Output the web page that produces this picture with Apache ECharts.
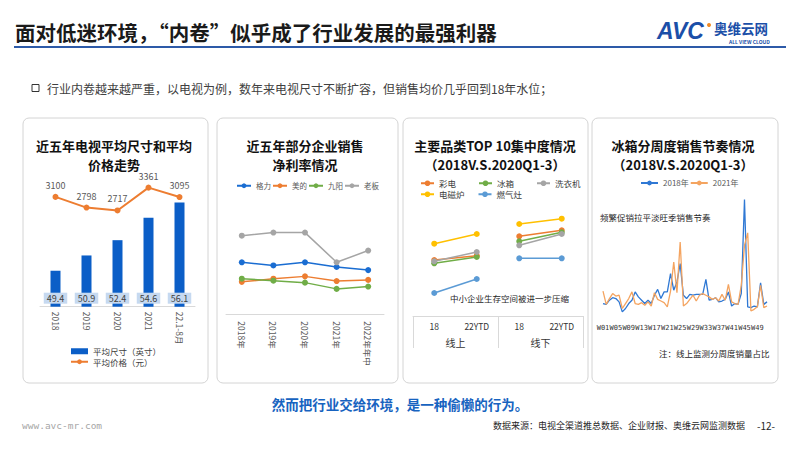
<!DOCTYPE html>
<html>
<head>
<meta charset="utf-8">
<script src="https://cdn.jsdelivr.net/npm/echarts@6/dist/echarts.min.js"></script>
<style>
html, body { margin: 0; padding: 0; background: #fff; }
#main { width: 800px; height: 450px; }
</style>
</head>
<body>
<div id="main"></div>
<script>
// 图1：近五年电视平均尺寸和平均价格
const tvYears = ['2018', '2019', '2020', '2021', '22.1-8月'];
const tvSize = [49.4, 50.9, 52.4, 54.6, 56.1];
const tvPrice = [3100, 2798, 2717, 3361, 3095];

// 图2：企业净利率（%）
const profitYears = ['2018年', '2019年', '2020年', '2021年', '2022年年中'];
const gree = [13.3, 12.5, 13.3, 12.1, 11.3];
const midea = [8.3, 9.1, 9.7, 8.5, 8.8];
const joyoung = [9.1, 8.6, 8.1, 6.5, 7.1];
const robam = [20.1, 20.9, 20.9, 13.3, 16.3];

// 图3：TOP10集中度（线上18、线上22YTD、线下18、线下22YTD）
const crCats = ['18', '22YTD', '18', '22YTD'];
const crChannels = ['线上', '线下'];
const crTV = [56.0, 60.3, 79.7, 85.7];
const crFridge = [52.7, 59.0, 74.7, 83.7];
const crWasher = [54.7, 64.0, 70.7, 82.0];
const crInduction = [72.3, 82.0, 92.0, 97.3];
const crStove = [23.0, 37.0, 57.7, 57.7];

// 图4：冰箱分周度销量占比（%）
const weeks = ['W01', 'W02', 'W03', 'W04', 'W05', 'W06', 'W07', 'W08', 'W09', 'W10',
  'W11', 'W12', 'W13', 'W14', 'W15', 'W16', 'W17', 'W18', 'W19', 'W20',
  'W21', 'W22', 'W23', 'W24', 'W25', 'W26', 'W27', 'W28', 'W29', 'W30',
  'W31', 'W32', 'W33', 'W34', 'W35', 'W36', 'W37', 'W38', 'W39', 'W40',
  'W41', 'W42', 'W43', 'W44', 'W45', 'W46', 'W47', 'W48', 'W49', 'W50',
  'W51', 'W52'];
const week2018 = [1.5, 1.4, 1.9, 2.2, 2.1, 1.7, 0.5, 0.9, 1.5, 1.9,
  2.9, 2.3, 1.9, 1.5, 1.9, 1.5, 2.5, 3.2, 2.1, 2.9,
  2.9, 5.1, 3.1, 4.1, 6.3, 2.5, 2.1, 2.6, 2.5, 2.6,
  2.6, 2.6, 4.4, 1.9, 2.0, 2.2, 1.7, 1.8, 2.0, 2.9,
  1.2, 1.5, 1.4, 2.7, 14.0, 1.1, 1.0, 1.2, 1.1, 4.0,
  1.4, 1.7];
const week2021 = [3.0, 1.4, 2.1, 2.7, 2.4, 2.5, 0.9, 1.5, 2.1, 2.9,
  1.5, 1.4, 1.6, 1.3, 1.7, 1.2, 2.8, 2.0, 1.8, 1.6,
  1.1, 3.0, 6.5, 2.8, 8.9, 1.2, 1.5, 2.0, 2.5, 1.8,
  2.5, 2.7, 2.5, 2.3, 2.0, 2.2, 1.8, 2.6, 1.9, 3.8,
  1.7, 1.5, 1.4, 3.7, 8.5, 10.0, 0.6, 0.8, 1.1, 3.7,
  1.0, 1.2];

const FONT = '"Noto Sans CJK SC", "Noto Sans", sans-serif';
const chart = echarts.init(document.getElementById('main'), null, { renderer: 'svg' });

function txt(text, x, y, size, opts) {
  return {
    type: 'text',
    style: Object.assign({
      text: text, x: x, y: y, fontSize: size, fontFamily: FONT,
      fill: '#333', textAlign: 'left', textVerticalAlign: 'middle'
    }, opts || {})
  };
}
function panel(x, w) {
  return {
    type: 'rect',
    shape: { x: x, y: 118, width: w, height: 265, r: 6 },
    style: { fill: 'none', stroke: '#d4d4d4', lineWidth: 1 }
  };
}
function panelTitle(text, x) {
  return txt(text, x, 155, 13, {
    fontWeight: 'bold', fill: '#111', textAlign: 'center', lineHeight: 19
  });
}

// 图3：线上/线下拆成两段，使两组之间不连线
const crGroups = [
  ['彩电', crTV, '#ed7d31'],
  ['冰箱', crFridge, '#70ad47'],
  ['洗衣机', crWasher, '#a5a5a5'],
  ['电磁炉', crInduction, '#ffc000'],
  ['燃气灶', crStove, '#5b9bd5']
];
const crSeries = [];
crGroups.forEach(([name, vals, color]) => {
  [[vals[0], vals[1], '-', '-'], ['-', '-', vals[2], vals[3]]].forEach(d => {
    crSeries.push({
      name: name, type: 'line', xAxisIndex: 2, yAxisIndex: 3, data: d,
      color: color, symbol: 'circle', symbolSize: 6,
      lineStyle: { width: 1.5 }
    });
  });
});

function lineSeries(name, data, color) {
  return {
    name: name, type: 'line', xAxisIndex: 1, yAxisIndex: 2, data: data,
    color: color, symbol: 'circle', symbolSize: 6, lineStyle: { width: 1.5 }
  };
}

const option = {
  animation: false,
  textStyle: { fontFamily: FONT },
  graphic: [
    txt('面对低迷环境，“内卷”似乎成了行业发展的最强利器', 15, 32, 20.5, { fontWeight: 'bold', fill: '#1a1a1a' }),
    { type: 'line', shape: { x1: 14, y1: 47, x2: 786, y2: 47 }, style: { stroke: '#2d5aa8', lineWidth: 2 } },
    txt('AVC', 657, 31, 23, { fontWeight: 'bold', fontStyle: 'italic', fill: '#1b4fa8', fontFamily: 'Liberation Sans, sans-serif' }),
    { type: 'circle', shape: { cx: 709, cy: 25, r: 2 }, style: { fill: '#f08a24' } },
    txt('奥维云网', 714, 28, 13.5, { fontWeight: 'bold', fill: '#1b4fa8' }),
    txt('ALL VIEW CLOUD', 729, 41, 5, { fill: '#1b4fa8', fontWeight: 'bold' }),
    { type: 'rect', shape: { x: 32, y: 84.5, width: 7, height: 7 }, style: { fill: 'none', stroke: '#333', lineWidth: 1 } },
    txt('行业内卷越来越严重，以电视为例，数年来电视尺寸不断扩容，但销售均价几乎回到18年水位；', 47, 88, 12, { fill: '#404040' }),

    panel(23, 185), panel(217, 181), panel(403, 185), panel(592, 186),
    panelTitle('近五年电视平均尺寸和平均\n价格走势', 114),
    panelTitle('近五年部分企业销售\n净利率情况', 305),
    panelTitle('主要品类TOP 10集中度情况\n（2018V.S.2020Q1-3）', 495),
    panelTitle('冰箱分周度销售节奏情况\n（2018V.S.2020Q1-3）', 683),

    txt('中小企业生存空间被进一步压缩', 450, 298, 8.5, { fill: '#262626' }),
    txt('频繁促销拉平淡旺季销售节奏', 600, 217, 8.5, { fill: '#262626' }),
    txt('注：线上监测分周度销量占比', 659, 353, 8.5, { fill: '#262626' }),

    txt('然而把行业交给环境，是一种偷懒的行为。', 400, 404, 13.5, { fontWeight: 'bold', fill: '#1763c0', textAlign: 'center' }),
    txt('www.avc-mr.com', 22, 425, 9.5, { fill: '#a6a6a6', fontFamily: '"DejaVu Sans Mono", monospace' }),
    txt('数据来源：电视全渠道推总数据、企业财报、奥维云网监测数据', 493, 425, 9, { fill: '#262626' }),
    txt('-12-', 757, 425, 10, { fill: '#262626' })
  ],
  legend: [
    {
      data: [{ name: '平均尺寸（英寸）', icon: 'rect' }, '平均价格（元）'],
      orient: 'vertical', left: 70, top: 347, padding: 0, itemWidth: 17, itemHeight: 6, itemGap: 2,
      textStyle: { fontSize: 8.5, color: '#404040' }
    },
    {
      data: ['格力', '美的', '九阳', '老板'],
      left: 236, top: 182, padding: 0, itemWidth: 14, itemHeight: 6, itemGap: 1,
      textStyle: { fontSize: 7.5, color: '#595959' }
    },
    {
      data: ['彩电', '冰箱', '洗衣机'],
      left: 420, top: 179, padding: 0, itemWidth: 13, itemHeight: 7, itemGap: 22,
      textStyle: { fontSize: 8.5, color: '#404040' }
    },
    {
      data: ['电磁炉', '燃气灶'],
      left: 420, top: 190, padding: 0, itemWidth: 13, itemHeight: 7, itemGap: 13,
      textStyle: { fontSize: 8.5, color: '#404040' }
    },
    {
      data: ['2018年', '2021年'],
      left: 640, top: 179, padding: 0, itemWidth: 17, itemHeight: 6, itemGap: 1,
      textStyle: { fontSize: 8, color: '#595959' }
    }
  ],
  grid: [
    { left: 40, top: 165, width: 155, height: 141.7 },
    { left: 226, top: 197, width: 158, height: 117.3 },
    { left: 413, top: 216, width: 170, height: 100 },
    { left: 603, top: 183, width: 164, height: 133 }
  ],
  xAxis: [
    {
      gridIndex: 0, type: 'category', data: tvYears,
      axisLine: { lineStyle: { color: '#d9d9d9' } }, axisTick: { show: false },
      axisLabel: { rotate: -90, margin: 5, fontSize: 8.5, color: '#595959' }
    },
    {
      gridIndex: 1, type: 'category', data: profitYears,
      axisLine: { lineStyle: { color: '#d9d9d9' } }, axisTick: { show: false },
      axisLabel: { rotate: -90, margin: 7, fontSize: 8.5, color: '#595959' }
    },
    {
      gridIndex: 2, type: 'category', data: crCats, position: 'bottom',
      axisLine: { show: false }, axisTick: { show: false },
      axisLabel: { margin: 6, fontSize: 8.5, color: '#333' }
    },
    {
      gridIndex: 2, type: 'category', data: crChannels, position: 'bottom',
      axisLine: { lineStyle: { color: '#d9d9d9' } },
      axisTick: { show: true, length: 32, lineStyle: { color: '#d9d9d9' } },
      axisLabel: { margin: 21, fontSize: 10, color: '#333' }
    },
    {
      gridIndex: 3, type: 'category', data: weeks, boundaryGap: false,
      axisLine: { show: false }, axisTick: { show: false },
      axisLabel: { interval: 3, margin: 8, fontSize: 7, color: '#333', fontFamily: '"DejaVu Sans Mono", monospace' }
    }
  ],
  yAxis: [
    { gridIndex: 0, type: 'value', min: 45.87, max: 59.78, show: false },
    { gridIndex: 0, type: 'value', min: 0, max: 4000, show: false },
    { gridIndex: 1, type: 'value', min: 0, max: 30, show: false },
    { gridIndex: 2, type: 'value', min: 0, max: 100, show: false },
    { gridIndex: 3, type: 'value', min: 0, max: 16, show: false }
  ],
  series: [
    {
      name: '平均尺寸（英寸）', type: 'bar', xAxisIndex: 0, yAxisIndex: 0,
      data: tvSize, barWidth: 10, color: '#0b5ec7',
      label: {
        show: true, position: 'insideBottom', distance: 3,
        backgroundColor: '#c6d9f0', padding: [1, 3], color: '#404040', fontSize: 9
      }
    },
    {
      name: '平均价格（元）', type: 'line', xAxisIndex: 0, yAxisIndex: 1,
      data: tvPrice, color: '#ed7d31', symbol: 'circle', symbolSize: 6,
      lineStyle: { width: 2 },
      label: { show: true, position: 'top', distance: 4, fontSize: 9, color: '#595959' }
    },
    lineSeries('格力', gree, '#1a6dd2'),
    lineSeries('美的', midea, '#ed7d31'),
    lineSeries('九阳', joyoung, '#70ad47'),
    lineSeries('老板', robam, '#a5a5a5'),
    ...crSeries,
    {
      name: '2018年', type: 'line', xAxisIndex: 4, yAxisIndex: 4, data: week2018,
      color: '#2f78d4', symbol: 'none', lineStyle: { width: 1.3 }
    },
    {
      name: '2021年', type: 'line', xAxisIndex: 4, yAxisIndex: 4, data: week2021,
      color: '#f4a460', symbol: 'none', lineStyle: { width: 1.3 }
    }
  ]
};

chart.setOption(option);
</script>
</body>
</html>
